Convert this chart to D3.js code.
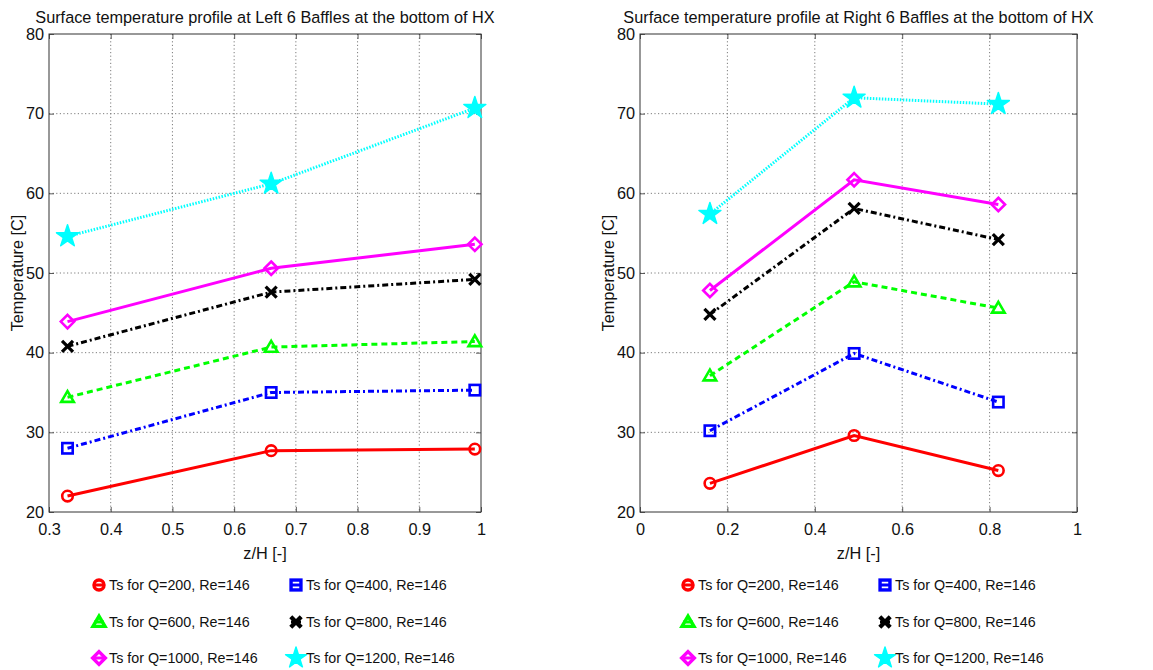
<!DOCTYPE html>
<html>
<head>
<meta charset="utf-8">
<script src="https://cdn.jsdelivr.net/npm/d3@7"></script>
<style>
  html, body { margin: 0; padding: 0; background: #fff; }
  svg { display: block; font-family: "Liberation Sans", Arial, Helvetica, sans-serif; }
</style>
</head>
<body>
<svg id="fig" width="1153" height="670"></svg>
<script>
// Axial positions of the baffle measurement points (z/H)
const leftZ = [0.33, 0.66, 0.99];
const rightZ = [0.16, 0.49, 0.82];

// Surface temperatures [C], left 6 baffles
const leftQ200 = [22.0, 27.7, 27.9];
const leftQ400 = [28.0, 35.0, 35.3];
const leftQ600 = [34.4, 40.7, 41.4];
const leftQ800 = [40.8, 47.6, 49.2];
const leftQ1000 = [43.9, 50.6, 53.6];
const leftQ1200 = [54.6, 61.2, 70.7];

// Surface temperatures [C], right 6 baffles
const rightQ200 = [23.6, 29.6, 25.2];
const rightQ400 = [30.2, 39.9, 33.8];
const rightQ600 = [37.1, 48.9, 45.6];
const rightQ800 = [44.8, 58.1, 54.2];
const rightQ1000 = [47.8, 61.7, 58.6];
const rightQ1200 = [57.4, 72.0, 71.2];

const seriesLabels = [
  "Ts for Q=200, Re=146", "Ts for Q=400, Re=146",
  "Ts for Q=600, Re=146", "Ts for Q=800, Re=146",
  "Ts for Q=1000, Re=146", "Ts for Q=1200, Re=146"
];

const yTicks = [20, 30, 40, 50, 60, 70, 80];
const leftXTicks = [0.3, 0.4, 0.5, 0.6, 0.7, 0.8, 0.9, 1.0];
const rightXTicks = [0, 0.2, 0.4, 0.6, 0.8, 1.0];

const titles = [
  "Surface temperature profile at Left 6 Baffles at the bottom of HX",
  "Surface temperature profile at Right 6 Baffles at the bottom of HX"
];

// Line / marker styling per series (MATLAB-like)
const styles = [
  { color: "#ff0000", dash: null,        marker: "circle" },
  { color: "#0000ff", dash: "6,3,2,3",   marker: "square" },
  { color: "#00ff00", dash: "6,4",       marker: "triangle" },
  { color: "#000000", dash: "6,3,2,3",   marker: "x" },
  { color: "#ff00ff", dash: null,        marker: "diamond" },
  { color: "#00ffff", dash: "1.5,1.5",   marker: "star" }
];

const svg = d3.select("#fig");
const labelFont = "16.3px";

function drawMarker(g, type, color, x, y, scale, sw) {
  const s = scale || 1;
  if (type === "circle") {
    g.append("circle").attr("cx", x).attr("cy", y).attr("r", 5.3 * s)
      .attr("fill", "none").attr("stroke", color).attr("stroke-width", sw);
  } else if (type === "square") {
    g.append("rect").attr("x", x - 5.2 * s).attr("y", y - 5.2 * s)
      .attr("width", 10.4 * s).attr("height", 10.4 * s)
      .attr("fill", "none").attr("stroke", color).attr("stroke-width", sw);
  } else if (type === "triangle") {
    const p = d3.path();
    p.moveTo(x, y - 6.2 * s); p.lineTo(x + 6.3 * s, y + 4.6 * s); p.lineTo(x - 6.3 * s, y + 4.6 * s); p.closePath();
    g.append("path").attr("d", p.toString())
      .attr("fill", "none").attr("stroke", color).attr("stroke-width", sw).attr("stroke-linejoin", "miter");
  } else if (type === "x") {
    const r = 5.5 * s;
    const p = d3.path();
    p.moveTo(x - r, y - r); p.lineTo(x + r, y + r);
    p.moveTo(x + r, y - r); p.lineTo(x - r, y + r);
    g.append("path").attr("d", p.toString())
      .attr("fill", "none").attr("stroke", color).attr("stroke-width", sw * 1.25);
  } else if (type === "diamond") {
    const r = 6.7 * s;
    const p = d3.path();
    p.moveTo(x, y - r); p.lineTo(x + r, y); p.lineTo(x, y + r); p.lineTo(x - r, y); p.closePath();
    g.append("path").attr("d", p.toString())
      .attr("fill", "none").attr("stroke", color).attr("stroke-width", sw);
  } else if (type === "star") {
    g.append("path")
      .attr("d", d3.symbol(d3.symbolStar, 150 * s * s)())
      .attr("transform", `translate(${x},${y})`)
      .attr("fill", color).attr("stroke", color).attr("stroke-width", 1.5 * s)
      .attr("stroke-linejoin", "round");
  }
}

function panel(opts) {
  const { x0, x1, y0, y1, xDomain, xTicks, zs, series, title, legendX } = opts;
  const x = d3.scaleLinear().domain(xDomain).range([x0, x1]);
  const y = d3.scaleLinear().domain([20, 80]).range([y1, y0]);
  const g = svg.append("g");

  // dotted grid
  g.append("g").selectAll("line").data(xTicks.slice(1, -1)).join("line")
    .attr("x1", d => x(d)).attr("x2", d => x(d)).attr("y1", y0).attr("y2", y1)
    .attr("stroke", "#6e6e6e").attr("stroke-width", 0.9).attr("stroke-dasharray", "1.2,2.4");
  g.append("g").selectAll("line").data(yTicks.slice(1, -1)).join("line")
    .attr("x1", x0).attr("x2", x1).attr("y1", d => y(d)).attr("y2", d => y(d))
    .attr("stroke", "#6e6e6e").attr("stroke-width", 0.9).attr("stroke-dasharray", "1.2,2.4");

  // axes via d3-axis (inward ticks)
  const bottom = g.append("g").attr("transform", `translate(0,${y1})`)
    .call(d3.axisBottom(x).tickValues(xTicks).tickSize(-5).tickPadding(11).tickFormat(d3.format("~g")));
  const top = g.append("g").attr("transform", `translate(0,${y0})`)
    .call(d3.axisTop(x).tickValues(xTicks).tickSize(-5).tickFormat(""));
  const left = g.append("g").attr("transform", `translate(${x0},0)`)
    .call(d3.axisLeft(y).tickValues(yTicks).tickSize(-5).tickPadding(5));
  const right = g.append("g").attr("transform", `translate(${x1},0)`)
    .call(d3.axisRight(y).tickValues(yTicks).tickSize(-5).tickFormat(""));
  [bottom, top, left, right].forEach(a => {
    a.select(".domain").remove();
    a.selectAll("line").attr("stroke", "#333").attr("stroke-width", 0.8);
    a.selectAll("text").attr("fill", "#111").style("font-size", labelFont)
      .style("font-family", "'Liberation Sans', Arial, sans-serif");
  });

  // box
  g.append("rect").attr("x", x0).attr("y", y0).attr("width", x1 - x0).attr("height", y1 - y0)
    .attr("fill", "none").attr("stroke", "#333").attr("stroke-width", 1);

  // series lines with markers
  const line = d3.line().x(d => x(d[0])).y(d => y(d[1]));
  series.forEach((vals, i) => {
    const st = styles[i];
    const pts = zs.map((z, k) => [z, vals[k]]);
    g.append("path").attr("d", line(pts)).attr("fill", "none")
      .attr("stroke", st.color).attr("stroke-width", 3)
      .attr("stroke-dasharray", st.dash);
    pts.forEach(p => drawMarker(g, st.marker, st.color, x(p[0]), y(p[1]), 1, 2.6));
  });

  // title and axis labels
  g.append("text").attr("x", (x0 + x1) / 2).attr("y", 23).attr("text-anchor", "middle")
    .attr("fill", "#111").style("font-size", labelFont).text(title);
  g.append("text").attr("x", (x0 + x1) / 2).attr("y", 559).attr("text-anchor", "middle")
    .attr("fill", "#111").style("font-size", labelFont).text("z/H [-]");
  g.append("text").attr("transform", `translate(${x0 - 26},${(y0 + y1) / 2}) rotate(-90)`)
    .attr("text-anchor", "middle").attr("fill", "#111").style("font-size", labelFont)
    .text("Temperature [C]");

  // legend: 3 rows x 2 columns
  const rowsY = [585, 622, 658];
  series.forEach((vals, i) => {
    const st = styles[i];
    const col = i % 2, row = Math.floor(i / 2);
    const mx = legendX[col], my = rowsY[row];
    g.append("line").attr("x1", mx - 5).attr("x2", mx + 5).attr("y1", my).attr("y2", my)
      .attr("stroke", st.color).attr("stroke-width", 3);
    drawMarker(g, st.marker, st.color, mx, my, 0.95, 3.4);
    g.append("text").attr("x", mx + 10).attr("y", my + 5)
      .attr("fill", "#111").style("font-size", "14.3px").text(seriesLabels[i]);
  });
}

panel({
  x0: 49, x1: 481, y0: 34, y1: 512,
  xDomain: [0.3, 1.0], xTicks: leftXTicks, zs: leftZ,
  series: [leftQ200, leftQ400, leftQ600, leftQ800, leftQ1000, leftQ1200],
  title: titles[0], legendX: [99, 296]
});

panel({
  x0: 640, x1: 1077, y0: 34, y1: 512,
  xDomain: [0, 1.0], xTicks: rightXTicks, zs: rightZ,
  series: [rightQ200, rightQ400, rightQ600, rightQ800, rightQ1000, rightQ1200],
  title: titles[1], legendX: [688, 885]
});
</script>
</body>
</html>
